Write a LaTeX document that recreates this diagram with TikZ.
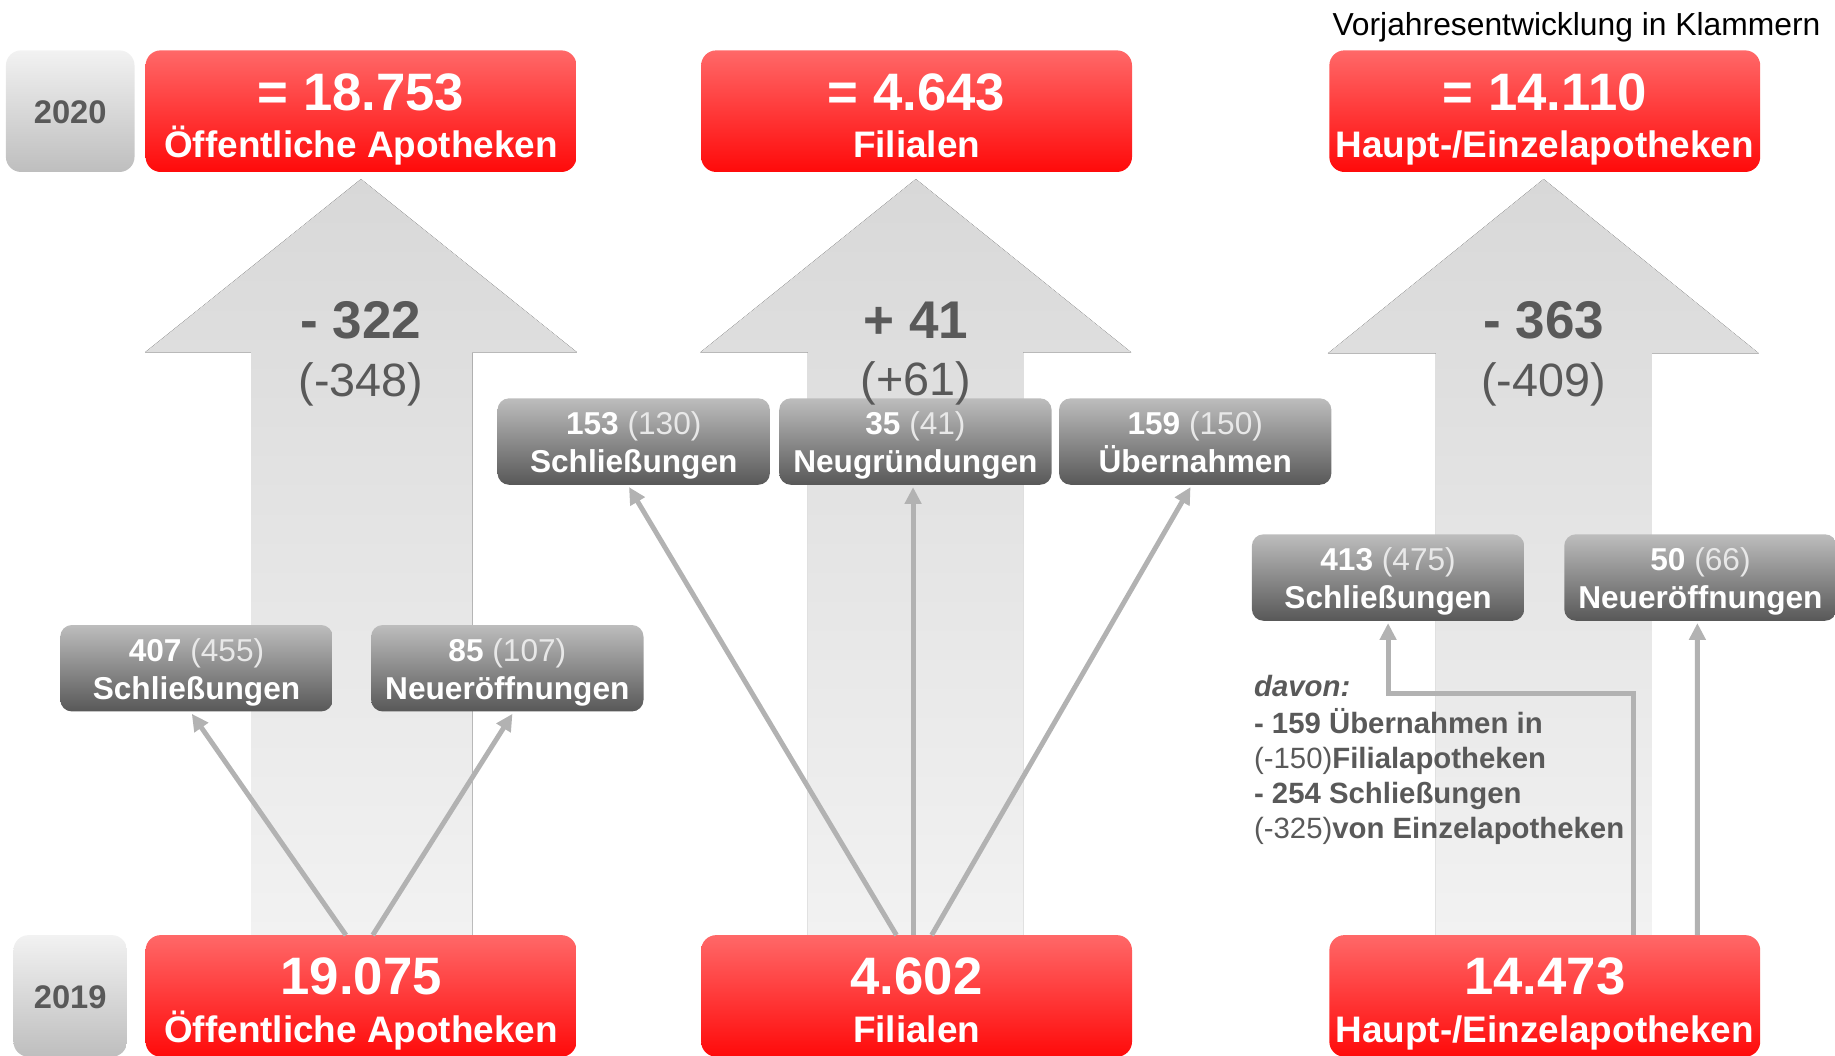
\documentclass[tikz,border=0pt]{standalone}
\usepackage{fontspec}
\setmainfont{Liberation Sans}
\usetikzlibrary{arrows.meta,calc}
\definecolor{txtgray}{HTML}{595959}
\definecolor{lightnum}{HTML}{E8E8E8}
\definecolor{conncol}{HTML}{B2B2B2}
\definecolor{redtop}{HTML}{FF6868}
\definecolor{redbot}{HTML}{FF0A0A}
\definecolor{boxtop}{HTML}{BDBDBD}
\definecolor{boxbot}{HTML}{585858}
\definecolor{yeartop}{HTML}{F2F2F2}
\definecolor{yearbot}{HTML}{BEBEBE}
\definecolor{arrtop}{HTML}{D8D8D8}
\definecolor{arrbot}{HTML}{F2F2F2}
\begin{document}
\begin{tikzpicture}[x=0.011703cm,y=-0.011703cm,
 redbox/.style={rectangle,rounded corners=4.3pt,minimum width=122.6pt,minimum height=34.6pt,inner sep=0pt,outer sep=0pt,top color=redtop,bottom color=redbot},
 yearbox/.style={rectangle,rounded corners=4.3pt,inner sep=0pt,outer sep=0pt,top color=yeartop,bottom color=yearbot},
 smallbox/.style={rectangle,rounded corners=3.3pt,minimum width=77.5pt,minimum height=24.6pt,inner sep=0pt,outer sep=0pt,top color=boxtop,bottom color=boxbot},
 bignum/.style={anchor=base,inner sep=0pt,text=white,font=\fontsize{15}{18}\selectfont\bfseries},
 redlabel/.style={anchor=base,inner sep=0pt,text=white,font=\fontsize{10.5}{12}\selectfont\bfseries},
 yeartext/.style={anchor=base,inner sep=0pt,text=txtgray,font=\fontsize{9.3}{11}\selectfont\bfseries},
 deltatext/.style={anchor=base,inner sep=0pt,text=txtgray,font=\fontsize{15.1}{18}\selectfont\bfseries},
 prevtext/.style={anchor=base,inner sep=0pt,text=txtgray,font=\fontsize{13.3}{16}\selectfont},
 boxnum/.style={anchor=base,inner sep=0pt,text=white,font=\fontsize{9}{11}\selectfont},
 boxlabel/.style={anchor=base,inner sep=0pt,text=white,font=\fontsize{9}{11}\selectfont\bfseries},
 note/.style={anchor=base west,inner sep=0pt,text=txtgray,font=\fontsize{8.35}{10}\selectfont},
 conn/.style={draw=conncol,line width=1.4pt,-{Triangle[width=4.6pt,length=4.8pt]}},
 bigarrow/.style={top color=arrtop,bottom color=arrbot,draw=none}
]
\useasboundingbox (0,0) rectangle (1568,901.5);

% big background arrows
\fill[bigarrow] (308.5,153) -- (493,301) -- (403.8,301) -- (403.8,800) -- (214.5,800) -- (214.5,301) -- (124,301) -- cycle;
\fill[bigarrow] (782.6,153) -- (966.5,301) -- (874.3,301) -- (874.3,800) -- (690.4,800) -- (690.4,301) -- (598.5,301) -- cycle;
\fill[bigarrow] (1319,153) -- (1503,302) -- (1411.5,302) -- (1411.5,800) -- (1227,800) -- (1227,302) -- (1134.6,302) -- cycle;

% main boxes
\node[yearbox,minimum width=36.6pt,minimum height=34.6pt] (y20) at (60,95) {};
\node[yearbox,minimum width=32.3pt,minimum height=34.6pt] (y19) at (60,851) {};
\node[redbox] (t1) at (308.5,95) {};
\node[redbox] (t2) at (783.2,95) {};
\node[redbox] (t3) at (1320,95) {};
\node[redbox] (b1) at (308.5,851) {};
\node[redbox] (b2) at (783.2,851) {};
\node[redbox] (b3) at (1320,851) {};

% small boxes
\node[smallbox] (l1) at (167.9,571) {};
\node[smallbox] (l2) at (433.5,571) {};
\node[smallbox] (m1) at (541.5,377.3) {};
\node[smallbox] (m2) at (782.2,377.3) {};
\node[smallbox] (m3) at (1021.3,377.3) {};
\node[smallbox] (r1) at (1186.1,493.5) {};
\node[smallbox] (r2) at (1453,493.5) {};

% connectors
\draw[conn] ($(b1.north)+(-12.9,0)$) -- ($(l1.south)+(-4,2)$);
\draw[conn] ($(b1.north)+(10,0)$) -- ($(l2.south)+(4.4,2)$);
\draw[conn] ($(b2.north)+(-17.2,0)$) -- ($(m1.south)+(-4,2)$);
\draw[conn] ($(b2.north)+(-3,0)$) -- ($(m2.south)+(-2,2)$);
\draw[conn] ($(b2.north)+(12.9,0)$) -- ($(m3.south)+(-4,2)$);
\draw[conn] ($(b3.north)+(75.7,0)$) |- ($(r1.south)+(0,62)$) -- ($(r1.south)+(0,2)$);
\draw[conn] ($(b3.north)+(130.4,0)$) -- ($(r2.south)+(-2.6,2)$);

% texts in main boxes
\node[yeartext] at (60,105.4) {2020};
\node[yeartext] at (60,861.5) {2019};
\node[bignum] at (308.5,94) {= 18.753};
\node[redlabel] at (308.5,134.5) {Öffentliche Apotheken};
\node[bignum] at (783.2,94) {= 4.643};
\node[redlabel] at (783.2,134.5) {Filialen};
\node[bignum] at (1320,94) {= 14.110};
\node[redlabel] at (1320,134.5) {Haupt-/Einzelapotheken};
\node[bignum] at (308.5,849.5) {19.075};
\node[redlabel] at (308.5,890.5) {Öffentliche Apotheken};
\node[bignum] at (783.2,849.5) {4.602};
\node[redlabel] at (783.2,890.5) {Filialen};
\node[bignum] at (1320,849.5) {14.473};
\node[redlabel] at (1320,890.5) {Haupt-/Einzelapotheken};

% texts in small boxes
\node[boxnum] at ($(l1.center)+(0,-5.6)$) {\textbf{407} \textcolor{lightnum}{(455)}};
\node[boxlabel] at ($(l1.center)+(0,26.6)$) {Schließungen};
\node[boxnum] at ($(l2.center)+(0,-5.6)$) {\textbf{85} \textcolor{lightnum}{(107)}};
\node[boxlabel] at ($(l2.center)+(0,26.6)$) {Neueröffnungen};
\node[boxnum] at ($(m1.center)+(0,-5.6)$) {\textbf{153} \textcolor{lightnum}{(130)}};
\node[boxlabel] at ($(m1.center)+(0,26.6)$) {Schließungen};
\node[boxnum] at ($(m2.center)+(0,-5.6)$) {\textbf{35} \textcolor{lightnum}{(41)}};
\node[boxlabel] at ($(m2.center)+(0,26.6)$) {Neugründungen};
\node[boxnum] at ($(m3.center)+(0,-5.6)$) {\textbf{159} \textcolor{lightnum}{(150)}};
\node[boxlabel] at ($(m3.center)+(0,26.6)$) {Übernahmen};
\node[boxnum] at ($(r1.center)+(0,-5.6)$) {\textbf{413} \textcolor{lightnum}{(475)}};
\node[boxlabel] at ($(r1.center)+(0,26.6)$) {Schließungen};
\node[boxnum] at ($(r2.center)+(0,-5.6)$) {\textbf{50} \textcolor{lightnum}{(66)}};
\node[boxlabel] at ($(r2.center)+(0,26.6)$) {Neueröffnungen};

% deltas in big arrows
\node[deltatext] at (308.5,289) {- 322};
\node[prevtext] at (308.5,339) {(-348)};
\node[deltatext] at (782.6,289) {+ 41};
\node[prevtext] at (782.6,338) {(+61)};
\node[deltatext] at (1319,289) {- 363};
\node[prevtext] at (1319,339) {(-409)};

% note
\node[note] at (1071,595.5) {\bfseries\itshape davon:};
\node[note] at (1071,626.5) {\bfseries - 159 Übernahmen in};
\node[note] at (1071,656.5) {(-150)\textbf{Filialapotheken}};
\node[note] at (1071,686.5) {\bfseries - 254 Schließungen};
\node[note] at (1071,716.5) {(-325)\textbf{von Einzelapotheken}};

\node[anchor=base west,inner sep=0pt,text=black,font=\fontsize{9.05}{11}\selectfont] at (1138,30.7) {Vorjahresentwicklung in Klammern};
\end{tikzpicture}
\end{document}
